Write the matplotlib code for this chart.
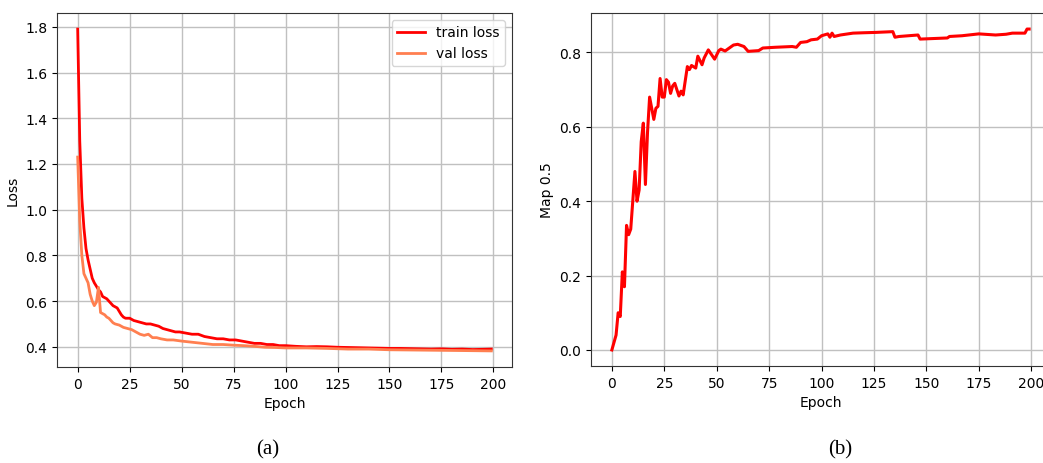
import matplotlib.pyplot as plt

# (a) loss curves
train_epochs = [0, 1, 2, 3, 4, 5, 6, 7, 8, 9, 10, 11, 12, 13, 14, 15, 16, 17, 18, 19,
                20, 21, 22, 23, 25, 27, 29, 31, 33, 35, 37, 39, 41, 43, 45, 47, 49, 52,
                55, 58, 61, 64, 67, 70, 73, 76, 79, 82, 85, 88, 91, 94, 97, 100, 105,
                110, 115, 120, 125, 130, 135, 140, 145, 150, 155, 160, 165, 170, 175,
                180, 185, 190, 195, 199]
train_loss = [1.79, 1.30, 1.05, 0.92, 0.83, 0.78, 0.74, 0.70, 0.68, 0.665, 0.65, 0.64,
              0.62, 0.615, 0.61, 0.60, 0.59, 0.58, 0.575, 0.57, 0.555, 0.54, 0.53, 0.525,
              0.525, 0.515, 0.51, 0.505, 0.50, 0.50, 0.495, 0.49, 0.48, 0.475, 0.47,
              0.465, 0.465, 0.46, 0.455, 0.455, 0.445, 0.44, 0.435, 0.435, 0.43, 0.43,
              0.425, 0.42, 0.415, 0.415, 0.41, 0.41, 0.405, 0.405, 0.402, 0.40, 0.401,
              0.40, 0.398, 0.397, 0.396, 0.395, 0.394, 0.393, 0.393, 0.392, 0.391,
              0.39, 0.391, 0.389, 0.39, 0.388, 0.389, 0.39]

val_epochs = [0, 1, 2, 3, 4, 5, 6, 7, 8, 9, 10, 11, 12, 13, 14, 15, 16, 17, 18, 20, 22,
              24, 26, 28, 30, 32, 34, 36, 38, 40, 43, 46, 50, 55, 60, 65, 70, 75, 80, 85,
              90, 95, 100, 110, 120, 130, 140, 150, 160, 170, 180, 190, 199]
val_loss = [1.23, 0.95, 0.80, 0.72, 0.70, 0.68, 0.63, 0.60, 0.58, 0.595, 0.66, 0.55,
            0.545, 0.54, 0.53, 0.525, 0.515, 0.505, 0.50, 0.495, 0.485, 0.48, 0.475,
            0.465, 0.455, 0.45, 0.455, 0.44, 0.44, 0.435, 0.43, 0.43, 0.425, 0.42,
            0.415, 0.41, 0.41, 0.407, 0.405, 0.402, 0.398, 0.397, 0.395, 0.395, 0.393,
            0.39, 0.39, 0.387, 0.386, 0.385, 0.384, 0.383, 0.382]

# (b) mAP@0.5
map_epochs = [0, 2, 3, 4, 5, 6, 7, 8, 9, 11, 12, 13, 14, 15, 16, 17, 18, 20, 21, 22,
              23, 24, 25, 26, 27, 28, 29, 30, 32, 33, 34, 36, 37, 38, 40, 41, 43, 44,
              46, 49, 51, 52, 54, 56, 58, 60, 63, 65, 70, 72, 78, 86, 88, 90, 93, 95,
              98, 100, 103, 104, 105, 106, 109, 115, 120, 126, 134, 135, 137, 146, 147,
              160, 161, 167, 175, 183, 188, 191, 197, 198, 199]
map50 = [0.0, 0.04, 0.10, 0.09, 0.21, 0.17, 0.335, 0.31, 0.325, 0.48, 0.40, 0.43, 0.56,
         0.61, 0.445, 0.585, 0.68, 0.62, 0.65, 0.655, 0.73, 0.68, 0.68, 0.727, 0.72,
         0.69, 0.71, 0.717, 0.683, 0.696, 0.686, 0.762, 0.754, 0.765, 0.758, 0.79,
         0.767, 0.785, 0.807, 0.782, 0.805, 0.809, 0.804, 0.812, 0.82, 0.822, 0.816,
         0.803, 0.805, 0.812, 0.814, 0.816, 0.814, 0.827, 0.829, 0.834, 0.836, 0.845,
         0.85, 0.841, 0.852, 0.843, 0.847, 0.852, 0.853, 0.854, 0.856, 0.841, 0.843,
         0.847, 0.836, 0.839, 0.843, 0.845, 0.85, 0.847, 0.849, 0.852, 0.852, 0.863,
         0.863]

plt.rcParams['font.size'] = 10
plt.rcParams['axes.edgecolor'] = '#333333'

fig = plt.figure(figsize=(10.43, 4.64), dpi=100)

# left panel
ax1 = fig.add_axes([57 / 1043, 96 / 464, 455 / 1043, 354 / 464])
ax1.plot(train_epochs, train_loss, color='red', lw=2, label='train loss')
ax1.plot(val_epochs, val_loss, color='coral', lw=2, label='val loss')
ax1.set_xticks(range(0, 201, 25))
ax1.set_yticks([0.4, 0.6, 0.8, 1.0, 1.2, 1.4, 1.6, 1.8])
ax1.set_xlabel('Epoch')
ax1.set_ylabel('Loss')
ax1.grid(True, color='#c0c0c0', lw=1)
ax1.legend(loc='upper right')

# right panel (right edge runs off the figure like the original)
ax2 = fig.add_axes([591 / 1043, 97 / 464, 459 / 1043, 353 / 464])
ax2.plot(map_epochs, map50, color='red', lw=2.2)
ax2.set_xticks(range(0, 201, 25))
ax2.set_yticks([0.0, 0.2, 0.4, 0.6, 0.8])
ax2.set_xlabel('Epoch')
ax2.set_ylabel('Map 0.5')
ax2.grid(True, color='#c0c0c0', lw=1)

fig.text(268 / 1043, 14 / 464, '(a)', ha='center', va='center',
         fontsize=15, family='Liberation Serif')
fig.text(840 / 1043, 14 / 464, '(b)', ha='center', va='center',
         fontsize=15, family='Liberation Serif')

fig.savefig('out.png', dpi=100)
